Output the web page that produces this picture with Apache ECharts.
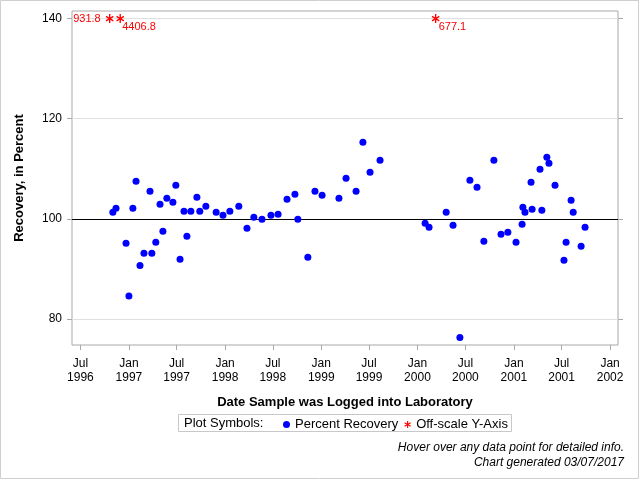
<!DOCTYPE html>
<html>
<head>
<meta charset="utf-8">
<script src="https://cdn.jsdelivr.net/npm/echarts@6/dist/echarts.min.js"></script>
<style>
  html, body { margin: 0; padding: 0; background: #fff; }
  #chart { width: 640px; height: 480px; }
</style>
</head>
<body>
<div id="chart"></div>
<script>
// sample log dates and percent recovery
const sampleDates = [
  '1996-11-01', '1996-11-13', '1996-12-21', '1997-01-01', '1997-01-16', '1997-01-28',
  '1997-02-12', '1997-02-27', '1997-03-22', '1997-03-29', '1997-04-13', '1997-04-29',
  '1997-05-10', '1997-05-25', '1997-06-17', '1997-06-28', '1997-07-14', '1997-07-29',
  '1997-08-09', '1997-08-24', '1997-09-16', '1997-09-27', '1997-10-20', '1997-11-28',
  '1997-12-24', '1998-01-19', '1998-02-22', '1998-03-25', '1998-04-20', '1998-05-21',
  '1998-06-24', '1998-07-21', '1998-08-24', '1998-09-23', '1998-10-04', '1998-11-11',
  '1998-12-08', '1999-01-04', '1999-03-09', '1999-04-05', '1999-05-13', '1999-06-08',
  '1999-07-05', '1999-08-12', '2000-01-30', '2000-02-14', '2000-04-19', '2000-05-15',
  '2000-06-10', '2000-07-18', '2000-08-14', '2000-09-09', '2000-10-17', '2000-11-13',
  '2000-12-09', '2001-01-09', '2001-02-01', '2001-02-04', '2001-02-12', '2001-03-07',
  '2001-03-11', '2001-04-10', '2001-04-17', '2001-05-06', '2001-05-14', '2001-06-06',
  '2001-07-10', '2001-07-18', '2001-08-06', '2001-08-14', '2001-09-13', '2001-09-28'
]
const recovery = [
  101.3, 102.1, 95.1, 84.6, 102.1, 107.5,
  90.7, 93.1, 105.5, 93.1, 95.3, 102.9,
  97.5, 104.1, 103.3, 106.7, 91.9, 101.5,
  96.5, 101.5, 104.3, 101.5, 102.5, 101.3,
  100.7, 101.5, 102.5, 98.1, 100.3, 99.9,
  100.7, 100.9, 103.9, 104.9, 99.9, 92.3,
  105.5, 104.7, 104.1, 108.1, 105.5, 115.3,
  109.3, 111.7, 99.1, 98.3, 101.3, 98.7,
  76.3, 107.7, 106.3, 95.5, 111.7, 96.9,
  97.3, 95.3, 98.9, 102.3, 101.3, 107.3,
  101.9, 109.9, 101.7, 112.3, 111.1, 106.7,
  91.7, 95.3, 103.7, 101.3, 94.5, 98.3
]

// values too large for the axis, drawn at the cap
const offDates = ['1996-10-20', '1996-11-29', '2000-03-10']
const offValues = [931.8, 4406.8, 677.1]
const offscaleCap = 140

const tickDates = [
  '1996-07-01', '1997-01-01', '1997-07-01', '1998-01-01', '1998-07-01', '1999-01-01',
  '1999-07-01', '2000-01-01', '2000-07-01', '2001-01-01', '2001-07-01', '2002-01-01'
]
const yTicks = [80, 100, 120, 140]
const refValue = 100

const font = '"Liberation Sans", Arial, sans-serif'
const ms = s => Date.parse(s)
const tickValues = tickDates.map(ms)

// asterisk: one vertical bar and two diagonals
const starPath = 'path://M42 0L58 0L58 100L42 100Z' +
  'M10.7 18.07L97.3 68.07L89.3 81.93L2.7 31.93Z' +
  'M2.7 68.07L89.3 18.07L97.3 31.93L10.7 81.93Z'

const offLabelPos = [
  { position: 'left', distance: 5 },
  { position: [6, 7] },
  { position: [7, 7] },
]

const chart = echarts.init(document.getElementById('chart'), null, { renderer: 'canvas' })

const gridLines = yTicks.filter(v => v !== refValue).map(v => ({ yAxis: v }))

const option = {
  backgroundColor: '#fff',
  animation: false,
  textStyle: { fontFamily: font },
  tooltip: { trigger: 'item' },
  grid: {
    left: 72, right: 22, top: 11, bottom: 135,
    show: true, borderColor: '#a8a8a8', borderWidth: 1,
    containLabel: false, outerBoundsMode: 'none',
  },
  xAxis: {
    type: 'value',
    min: ms('1996-05-30'),
    max: ms('2002-01-31'),
    name: 'Date Sample was Logged into Laboratory',
    nameLocation: 'middle',
    nameGap: 51,
    nameTextStyle: { fontFamily: font, fontSize: 13, fontWeight: 'bold', color: '#000' },
    axisLine: { show: false },
    splitLine: { show: false },
    axisTick: { customValues: tickValues, length: 5, lineStyle: { color: '#a8a8a8' } },
    axisLabel: {
      customValues: tickValues,
      margin: 12,
      fontSize: 12,
      lineHeight: 14,
      color: '#000',
      fontFamily: font,
      formatter: v => {
        const d = new Date(v)
        return (d.getUTCMonth() === 0 ? 'Jan' : 'Jul') + '\n' + d.getUTCFullYear()
      },
    },
  },
  yAxis: [
    {
      type: 'value',
      min: 74.8,
      max: 141.5,
      name: 'Recovery, in Percent',
      nameLocation: 'middle',
      nameGap: 46,
      nameTextStyle: { fontFamily: font, fontSize: 13, fontWeight: 'bold', color: '#000' },
      axisLine: { show: false },
      splitLine: { show: false },
      axisTick: { customValues: yTicks, length: 5, lineStyle: { color: '#a8a8a8' } },
      axisLabel: { customValues: yTicks, margin: 10, fontSize: 12, color: '#000', fontFamily: font },
    },
    {
      type: 'value',
      position: 'right',
      min: 74.8,
      max: 141.5,
      axisLine: { show: false },
      splitLine: { show: false },
      axisTick: { customValues: yTicks, length: 5, lineStyle: { color: '#a8a8a8' } },
      axisLabel: { show: false, customValues: yTicks },
    },
  ],
  legend: {
    left: 278,
    top: 413,
    itemWidth: 7,
    itemHeight: 7,
    itemGap: 6,
    selectedMode: false,
    textStyle: { fontFamily: font, fontSize: 13, color: '#000' },
    data: [
      { name: 'Percent Recovery', icon: 'circle' },
      { name: 'Off-scale Y-Axis', icon: starPath },
    ],
  },
  series: [
    {
      type: 'line',
      data: [],
      z: 1,
      silent: true,
      markLine: {
        silent: true,
        symbol: 'none',
        label: { show: false },
        lineStyle: { color: '#e0e0e0', width: 1, type: 'solid' },
        data: gridLines,
      },
    },
    {
      type: 'line',
      data: [],
      z: 2,
      silent: true,
      markLine: {
        silent: true,
        symbol: 'none',
        label: { show: false },
        lineStyle: { color: '#000', width: 1, type: 'solid' },
        data: [{ yAxis: refValue }],
      },
    },
    {
      name: 'Percent Recovery',
      type: 'scatter',
      z: 5,
      symbol: 'circle',
      symbolSize: 7,
      itemStyle: { color: '#0000ff', opacity: 1 },
      data: sampleDates.map((d, i) => [ms(d), recovery[i]]),
    },
    {
      name: 'Off-scale Y-Axis',
      type: 'scatter',
      z: 5,
      symbol: starPath,
      symbolSize: [8, 9],
      itemStyle: { color: '#ff0000', opacity: 1 },
      data: offDates.map((d, i) => ({
        value: [ms(d), Math.min(offValues[i], offscaleCap)],
        label: {
          show: true,
          formatter: String(offValues[i]),
          color: '#ff0000',
          fontSize: 11,
          fontFamily: font,
          ...offLabelPos[i],
        },
      })),
    },
  ],
  graphic: [
    {
      type: 'rect',
      silent: true,
      shape: { x: 0.5, y: 0.5, width: 638, height: 478 },
      style: { fill: 'none', stroke: '#cfcfcf', lineWidth: 1 },
    },
    {
      type: 'rect',
      silent: true,
      shape: { x: 178.5, y: 414.5, width: 333, height: 17 },
      style: { fill: 'none', stroke: '#c8c8c8', lineWidth: 1 },
    },
    {
      type: 'text',
      silent: true,
      left: 184,
      top: 417,
      style: { text: 'Plot Symbols:', font: '13px ' + font, fill: '#000' },
    },
    {
      type: 'text',
      silent: true,
      right: 16,
      top: 442,
      style: { text: 'Hover over any data point for detailed info.', font: 'italic 12px ' + font, fill: '#000', textAlign: 'right' },
    },
    {
      type: 'text',
      silent: true,
      right: 16,
      top: 457,
      style: { text: 'Chart generated 03/07/2017', font: 'italic 12px ' + font, fill: '#000', textAlign: 'right' },
    },
  ],
}

chart.setOption(option)
</script>
</body>
</html>
